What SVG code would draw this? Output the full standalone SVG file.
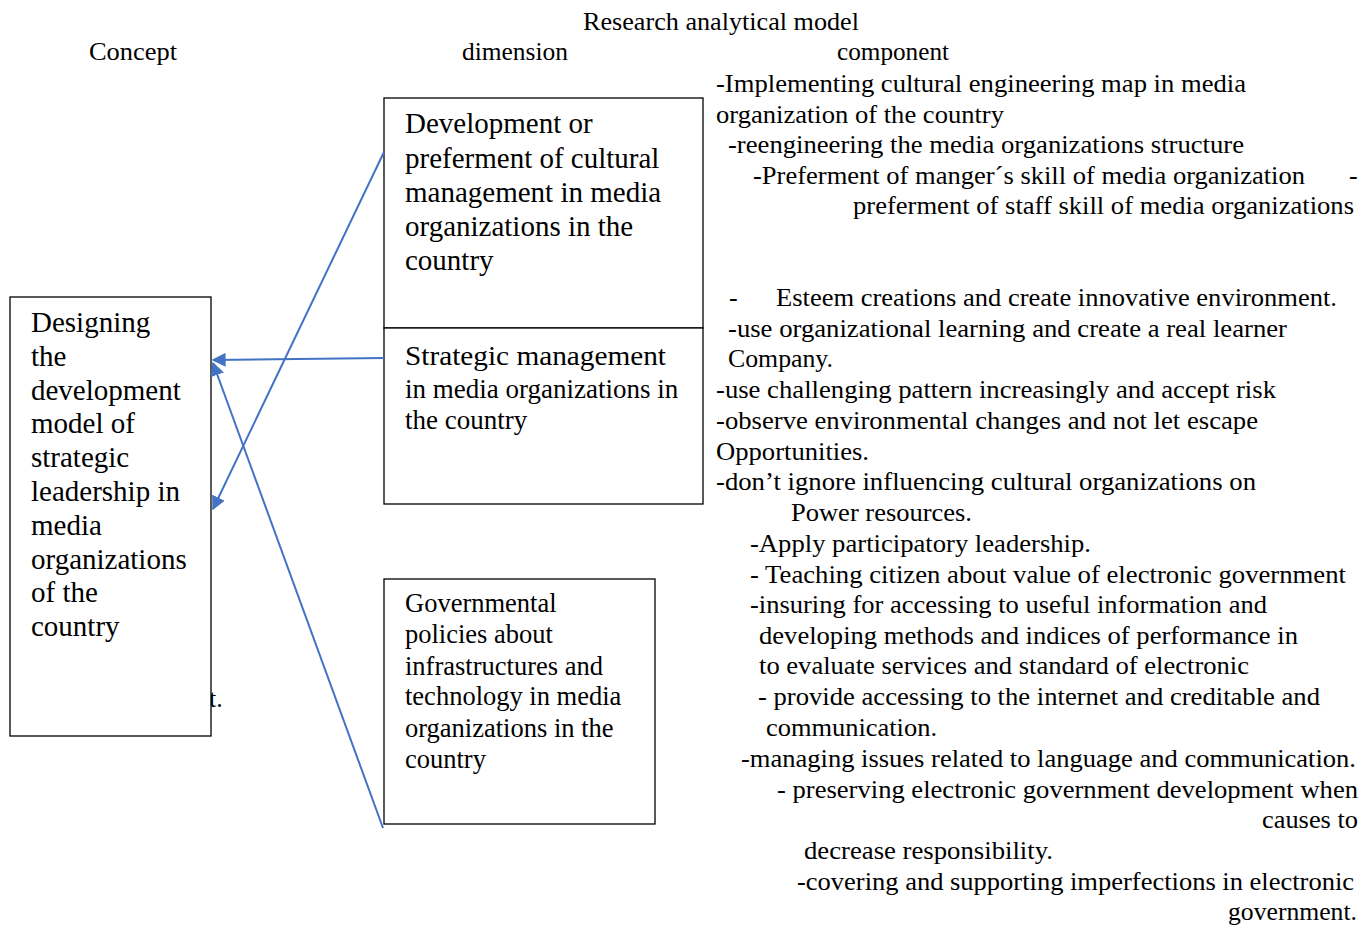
<svg xmlns="http://www.w3.org/2000/svg" width="1369" height="925" viewBox="0 0 1369 925">
<style>
text{font-family:"Liberation Serif","Times New Roman",serif;fill:#000;}
.h{font-size:25.5px;}
.c{font-size:26px;}
.big{font-size:29px;}
.mid{font-size:27px;}
.sm{font-size:26.5px;}
.box{fill:#fff;stroke:#000;stroke-width:1.3;}
.con{stroke:#4472C4;stroke-width:2;fill:none;marker-end:url(#ah);}
</style>
<defs>
<marker id="ah" viewBox="0 0 10 10" refX="9" refY="5" markerWidth="7" markerHeight="7" markerUnits="strokeWidth" orient="auto">
<path d="M0,0 L10,5 L0,10 z" fill="#4472C4"/>
</marker>
</defs>
<rect width="1369" height="925" fill="#fff"/>
<g id="headers" class="h">
<text x="583" y="30" textLength="276" lengthAdjust="spacingAndGlyphs">Research analytical model</text>
<text x="89" y="60" textLength="88" lengthAdjust="spacingAndGlyphs">Concept</text>
<text x="462" y="60" textLength="106" lengthAdjust="spacingAndGlyphs">dimension</text>
<text x="837" y="60" textLength="112" lengthAdjust="spacingAndGlyphs">component</text>
</g>
<text class="c" x="209" y="707">t.</text>
<g id="concept">
<rect class="box" x="10" y="297" width="201" height="439"/>
<g class="big">
<text x="31" y="332">Designing</text>
<text x="31" y="366">the</text>
<text x="31" y="400">development</text>
<text x="31" y="433">model of</text>
<text x="31" y="467">strategic</text>
<text x="31" y="501">leadership in</text>
<text x="31" y="535">media</text>
<text x="31" y="569">organizations</text>
<text x="31" y="602">of the</text>
<text x="31" y="636">country</text>
</g>
</g>
<g id="dim1">
<rect class="box" x="384" y="98" width="319" height="230"/>
<g class="big">
<text x="405" y="133">Development or</text>
<text x="405" y="168">preferment of cultural</text>
<text x="405" y="202">management in media</text>
<text x="405" y="236">organizations in the</text>
<text x="405" y="270">country</text>
</g>
</g>
<g id="dim2">
<rect class="box" x="384" y="328" width="319" height="176"/>
<g class="mid">
<text x="405" y="365" textLength="261" lengthAdjust="spacingAndGlyphs">Strategic management</text>
<text x="405" y="398">in media organizations in</text>
<text x="405" y="429">the country</text>
</g>
</g>
<g id="dim3">
<rect class="box" x="384" y="579" width="271" height="245"/>
<g class="sm">
<text x="405" y="612">Governmental</text>
<text x="405" y="643">policies about</text>
<text x="405" y="675">infrastructures and</text>
<text x="405" y="705">technology in media</text>
<text x="405" y="737">organizations in the</text>
<text x="405" y="768">country</text>
</g>
</g>
<g id="connectors">
<line class="con" x1="384" y1="152" x2="213" y2="509"/>
<line class="con" x1="384" y1="358" x2="213" y2="360"/>
<line class="con" x1="383" y1="828" x2="213" y2="363"/>
</g>
<g id="components" class="c">
<text x="716" y="92" textLength="530" lengthAdjust="spacingAndGlyphs">-Implementing cultural engineering map in media</text>
<text x="716" y="123" textLength="288" lengthAdjust="spacingAndGlyphs">organization of the country</text>
<text x="728" y="153" textLength="516" lengthAdjust="spacingAndGlyphs">-reengineering the media organizations structure</text>
<text x="753" y="184" textLength="552" lengthAdjust="spacingAndGlyphs">-Preferment of manger´s skill of media organization</text>
<text x="1349" y="184">-</text>
<text x="853" y="214" textLength="501" lengthAdjust="spacingAndGlyphs">preferment of staff skill of media organizations</text>
<text x="729" y="306">-</text>
<text x="776" y="306" textLength="561" lengthAdjust="spacingAndGlyphs">Esteem creations and create innovative environment.</text>
<text x="728" y="337" textLength="559" lengthAdjust="spacingAndGlyphs">-use organizational learning and create a real learner</text>
<text x="728" y="367" textLength="105" lengthAdjust="spacingAndGlyphs">Company.</text>
<text x="716" y="398" textLength="560" lengthAdjust="spacingAndGlyphs">-use challenging pattern increasingly and accept risk</text>
<text x="716" y="429" textLength="542" lengthAdjust="spacingAndGlyphs">-observe environmental changes and not let escape</text>
<text x="716" y="460" textLength="153" lengthAdjust="spacingAndGlyphs">Opportunities.</text>
<text x="716" y="490" textLength="540" lengthAdjust="spacingAndGlyphs">-don’t ignore influencing cultural organizations on</text>
<text x="791" y="521" textLength="181" lengthAdjust="spacingAndGlyphs">Power resources.</text>
<text x="750" y="552" textLength="341" lengthAdjust="spacingAndGlyphs">-Apply participatory leadership.</text>
<text x="750" y="583" textLength="596" lengthAdjust="spacingAndGlyphs">- Teaching citizen about value of electronic government</text>
<text x="750" y="613" textLength="517" lengthAdjust="spacingAndGlyphs">-insuring for accessing to useful information and</text>
<text x="759" y="644" textLength="539" lengthAdjust="spacingAndGlyphs">developing methods and indices of performance in</text>
<text x="759" y="674" textLength="490" lengthAdjust="spacingAndGlyphs">to evaluate services and standard of electronic</text>
<text x="758" y="705" textLength="562" lengthAdjust="spacingAndGlyphs">- provide accessing to the internet and creditable and</text>
<text x="766" y="736" textLength="171" lengthAdjust="spacingAndGlyphs">communication.</text>
<text x="741" y="767" textLength="615" lengthAdjust="spacingAndGlyphs">-managing issues related to language and communication.</text>
<text x="777" y="798" textLength="581" lengthAdjust="spacingAndGlyphs">- preserving electronic government development when</text>
<text x="1262" y="828" textLength="96" lengthAdjust="spacingAndGlyphs">causes to</text>
<text x="804" y="859" textLength="249" lengthAdjust="spacingAndGlyphs">decrease responsibility.</text>
<text x="797" y="890" textLength="557" lengthAdjust="spacingAndGlyphs">-covering and supporting imperfections in electronic</text>
<text x="1228" y="920" textLength="129" lengthAdjust="spacingAndGlyphs">government.</text>
</g>
</svg>
